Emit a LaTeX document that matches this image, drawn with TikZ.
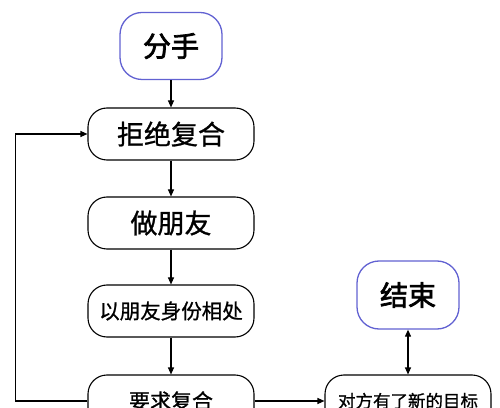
\documentclass[tikz,border=0pt]{standalone}
\usepackage{fontspec}
\newfontfamily\cjk[FakeBold=1]{Noto Sans CJK SC}
\newfontfamily\cjkmed[FakeBold=2.5]{Noto Sans CJK SC}
\usepackage{tikz}
\usetikzlibrary{positioning,arrows.meta,calc}
\usepackage{xcolor}
\definecolor{termblue}{RGB}{98,98,210}

\begin{document}
\begin{tikzpicture}[
    x=1pt, y=1pt,
    stepbox/.style={rectangle, rounded corners=19pt, draw=black, line width=1.1pt,
        minimum width=166pt, minimum height=52pt, inner sep=0pt, font=\cjk, fill=white},
    termbox/.style={rectangle, rounded corners=22pt, draw=termblue, line width=1.3pt,
        minimum width=102pt, minimum height=67pt, inner sep=0pt, font=\cjkmed, fill=white},
    arr/.style={-{Triangle[length=7pt,width=6pt]}, line width=1.1pt}
]
\useasboundingbox (0,0) rectangle (500,407);

% main chain
\node[termbox] (fenshou) at (171,361) {\fontsize{28}{30}\selectfont 分手};
\node[stepbox] (jujue) at (171,273) {\fontsize{27}{30}\selectfont 拒绝复合};
\node[stepbox] (pengyou) at (171,184) {\fontsize{27}{30}\selectfont 做朋友};
\node[stepbox] (xiangchu) at (171,96) {\fontsize{20.5}{24}\selectfont 以朋友身份相处};
\node[stepbox] (yaoqiu) at (171,6) {\fontsize{21}{24}\selectfont 要求复合};

% right branch
\node[termbox, minimum height=68pt] (jieshu) at (408,112) {\fontsize{28}{30}\selectfont 结束};
\node[stepbox] (duifang) at (408,6) {\fontsize{17.5}{20}\selectfont 对方有了新的目标};

\draw[arr] (fenshou) -- (jujue);
\draw[arr] (jujue) -- (pengyou);
\draw[arr] (pengyou) -- (xiangchu);
\draw[arr] (xiangchu) -- (yaoqiu);
\draw[arr] (yaoqiu) -- (duifang);
\draw[arr, {Triangle[length=7pt,width=6pt]}-{Triangle[length=7pt,width=6pt]}] (jieshu) -- (duifang);

% loop back
\draw[arr] (yaoqiu.west) -- ++(-72,0) |- (jujue.west);
\end{tikzpicture}
\end{document}
